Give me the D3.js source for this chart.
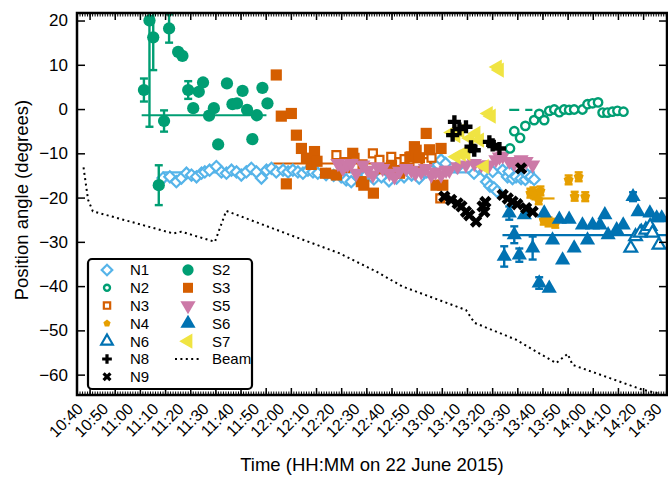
<!DOCTYPE html>
<html>
<head>
<meta charset="utf-8">
<script src="https://cdn.jsdelivr.net/npm/d3@7"></script>
<style>
body{margin:0;background:#fff}
svg text{font-family:"Liberation Sans",Arial,Helvetica,sans-serif;fill:#000}
</style>
</head>
<body>
<svg id="chart" width="668" height="477"></svg>
<script>
// times are minutes after 10:00 on 22 June 2015, values are position angles (deg)
// [minutes, angle] or [minutes, angle, error]
var n1 = [[69.2,-15.6],[71.9,-15.3],[74.5,-16.4],[76.5,-15.6],[78.5,-14.5],[80.5,-14.9],[82.5,-15.3],[84.5,-14.5],
  [85.8,-14.2],[87.7,-13.8],[90.4,-13.0],[92.4,-14.2],[94.4,-14.5],[96.4,-13.8],[98.4,-14.2],[100.3,-14.9],
  [102.3,-14.2],[104.3,-13.4],[106.3,-14.2],[108.3,-15.6],[110.3,-13.8],[112.3,-13.4],[114.2,-14.2],[116.9,-13.8],
  [118.9,-14.2],[120.8,-13.8],[122.8,-14.2],[124.8,-14.5],[126.8,-13.8],[128.8,-14.2],[130.7,-14.5],[134,-14.8],
  [137,-15.0],[140,-15.3],[142,-16.0],[144,-16.4],[147,-15.5],[150,-14.9],[153,-15.8],[156,-15.3],[159,-16.2],
  [162,-15.6],[165,-15.3],[168,-14.9],[171,-15.6],[174,-14.2],[176,-14.0],[178.5,-12.6],[179.7,-11.5],[181.5,-12.3],
  [186,-13.2],[192.8,-14.5],[194.8,-13.4],[196.9,-14.1],[197.8,-16.4],[199.1,-17.4],[200.2,-14.1],[200.7,-17.8],
  [202,-18.6],[204.2,-13.8],[206.1,-15.3],[206.7,-14.1],[208.1,-15.7],[209.5,-15.3],[211.5,-15.7],[213.2,-15.9],
  [214.1,-14.9],[215.4,-15.3],[216.7,-15.9]];
var n2 = [[207.1,-8.9],[208.8,-5.0],[211.1,-6.5],[213.2,-3.8],[216.7,-2.5],[218.7,-1.1],[220.7,-2.5],[222.7,-0.4],
  [224.7,-0.1],[226.7,-0.7],[228.6,-0.1],[230.6,-0.2],[232.6,-0.1],[235.9,-0.1],[237.9,1.1],[239.9,1.3],[242.1,1.5],
  [243.9,-0.8],[245.8,-0.8],[247.8,-0.6],[249.8,-0.4],[252.2,-0.6]];
var n3 = [[138.1,-10.4],[141.4,-12.0],[145.3,-11.0],[148.5,-12.5],[152.6,-10.0],[155.2,-11.5],[159.9,-10.8],
  [163.2,-12.0],[165.2,-11.3],[167.1,-10.8],[170.3,-12.2],[173.8,-12.0],[175.9,-11.0],[179.4,-20.2]];
var n4 = [[215.2,-19.0,1],[216.4,-18.7,1],[217.2,-19.4,1],[218.5,-20.5,1],[219.2,-18.5,1],[220.5,-25.1,1],
  [222.4,-25.5,1],[225.1,-25.8,1],[230.4,-16.0,1],[232.8,-19.7,1],[234.4,-15.3,1],[237.0,-19.8,1]];
var n6 = [[255.1,-31.4],[257.0,-28.8],[258.8,-28.0],[261.1,-27.3],[262.8,-26.5],[263.7,-28.0],[266.3,-30.7]];
var n8 = [[184.3,-5.9],[185.0,-2.9],[187.0,-4.5],[189.6,-4.0],[191.6,-8.5],[192.9,-9.3],[198.9,-7.4],[200.2,-8.1],[202.9,-8.9]];
var n9 = [[181.0,-19.8],[183.7,-20.5],[186.3,-21.3],[187.8,-22.0],[189.6,-23.2],[190.9,-24.0],[193.6,-25.4],
  [196.2,-22.0],[196.9,-23.2],[197.3,-21.0],[204.2,-19.4],[206.2,-20.2],[208.1,-20.9],[210.0,-21.5],[211.5,-13.4],
  [213.5,-22.4],[216.1,-23.2]];
var s2 = [[61.6,4.3,2.6],[63.8,20.0,24],[65.3,16.2,7.4],[67.5,-17.2,4.5],[69.6,-2.7,2.4],[71.6,18.2,3.2],
  [75.2,12.9],[76.9,12.0],[79.2,4.3,2.0],[81.2,0.2],[83.4,3.9],[85.1,6.0],[87.5,-1.5],[89.4,0.2],[91.1,-8.0],
  [94.6,5.8],[96.8,1.1],[98.6,1.3],[100.8,4.1],[102.6,-0.2],[104.7,-6.8],[106.5,-1.4],[108.7,4.8],[110.7,1.3]];
var s3 = [[114.2,7.7],[116.2,-1.6],[118.2,-16.9],[120.2,-1.0],[122.2,-5.9],[124.2,-8.9],[126.2,-11.1],[128.1,-12.5],
  [129.4,-9.6],[130.4,-11.8],[133.8,-14.5],[138.1,-14.9],[141.3,-13.2],[144.6,-10.0],[148.0,-16.4],[149.0,-17.2],
  [152.8,-19.0],[156,-13.5],[160,-12.8],[163.2,-14.5],[167.8,-10.8],[169.1,-8.5],[169.8,-9.3],[171.1,-11.0],
  [173.8,-5.5],[175.1,-9.2],[177.7,-17.2],[179.7,-8.9],[180.4,-17.2]];
var s5 = [[138.7,-12.3],[140.7,-13.4],[142.5,-12.6],[144.0,-12.3],[146.0,-14.5],[148.6,-12.6],[150.6,-13.8],
  [152.6,-14.9],[154.4,-13.0],[156.5,-13.4],[159.2,-14.5],[161.2,-15.3],[163.2,-14.0],[165.8,-13.4],[167.9,-13.8],
  [169.5,-14.5],[171.8,-14.2],[173.5,-13.4],[175.8,-14.9],[177.5,-14.2],[179.7,-14.9],[181.7,-13.8],[183.0,-13.8],
  [186.3,-13.0],[189.6,-12.6],[192.9,-12.3],[195.7,-12.6],[198.9,-12.6],[201.5,-11.4],[202.9,-10.8],[204.2,-10.6],
  [206.8,-11.8],[208.8,-12.3],[211.5,-11.4],[213.5,-11.8],[216.1,-12.6]];
var s6 = [[204.8,-33.3,2.3],[206.8,-23.5,1.5],[208.8,-28.4,1.9],[210.8,-33.0,1.5],[212.8,-23.9],[216.1,-31.4,2.6],
  [218.7,-39.3,1.3],[220.7,-23.5],[222.7,-40.5],[224.0,-29.6],[226.7,-24.9],[228.0,-34.1],[230.6,-24.9],[232.6,-31.4],
  [235.9,-26.2],[237.9,-29.6],[239.9,-26.2],[242.9,-26.2],[244.8,-23.9],[246.1,-28.4],[249.5,-27.3],[252.1,-26.2],
  [256.0,-19.8,1],[258.0,-23.2],[259.3,-27.6],[262.7,-23.5],[265.4,-24.6],[267.4,-24.6]];
var s7 = [[202.1,9.5],[202.9,8.8],[198.5,-1.0],[199.7,-1.6],[184.0,-5.3],[185.6,-6.0],[187.2,-5.0],[191.2,-6.6],
  [193.6,-5.5],[195.0,-7.0],[185.7,-10.8],[187.8,-10.2],[189.6,-10.0],[196.9,-13.0]];
var beam = [[37.6,-13.2],[39.4,-20.5],[41.3,-23.1],[73.2,-28.1],[76.5,-27.7],[89.8,-30.0],[94.3,-23.0],
  [119.5,-28.4],[139.4,-32.6],[153.9,-36.7],[164.4,-40.1],[189.6,-45.4],[193.0,-48.3],[209.5,-52.1],
  [225.4,-57.4],[230.0,-55.3],[232.0,-57.8],[259.7,-63.4],[265.7,-64.2]];
// mean lines: [start minute, end minute, angle]
var meanS2 = [60.7,110.3,-1.4];
var meanN1 = [69,217,-14.3];
var meanN3 = [113,179,-12.3];
var meanN2 = [206.8,216,-0.2];
var meanS6 = [204.1,270,-28.5];
var meanN4 = [215,224.8,-20.2];

var xTickLabels = ["10:40","10:50","11:00","11:10","11:20","11:30","11:40","11:50","12:00","12:10","12:20","12:30",
  "12:40","12:50","13:00","13:10","13:20","13:30","13:40","13:50","14:00","14:10","14:20","14:30"];
var yTickValues = [20,10,0,-10,-20,-30,-40,-50,-60];

var svg = d3.select("#chart");
var base = new Date(2015,5,22,10,0,0);
function tm(m){ return new Date(base.getTime()+m*60000); }
var parseHM = d3.timeParse("%H:%M");
function labelDate(s){ var d = parseHM(s); return new Date(2015,5,22,d.getHours(),d.getMinutes()); }

var L = 77, R = 667, T = 13, B = 395;
var x = d3.scaleTime().domain([tm(35), tm(269.5)]).range([L, R]);
var y = d3.scaleLinear().domain([-64.6, 21.7]).range([B, T]);

var C = {sky:"#56B4E9", green:"#009E73", verm:"#D55E00", orange:"#E69F00", blue:"#0072B2", pink:"#CC79A7", yellow:"#F0E442", black:"#000"};

var symbolPentagon = {draw:function(ctx,size){
  var r = Math.sqrt(size/2.378);
  for(var i=0;i<5;i++){
    var a = -Math.PI/2 + i*2*Math.PI/5;
    if(i) ctx.lineTo(r*Math.cos(a), r*Math.sin(a)); else ctx.moveTo(r*Math.cos(a), r*Math.sin(a));
  }
  ctx.closePath();
}};

var series = [
  {name:"N1", data:n1, type:d3.symbolSquare, size:62, rot:45, fill:"#fff", stroke:C.sky, sw:2.2},
  {name:"N3", data:n3, type:d3.symbolSquare, size:64, rot:0, fill:"#fff", stroke:C.verm, sw:2.2},
  {name:"S3", data:s3, type:d3.symbolSquare, size:125, rot:0, fill:C.verm, stroke:"none", sw:0},
  {name:"S5", data:s5, type:d3.symbolTriangle, size:100, rot:180, fill:C.pink, stroke:"none", sw:0},
  {name:"N2", data:n2, type:d3.symbolCircle, size:55, rot:0, fill:"#fff", stroke:C.green, sw:2.4},
  {name:"N4", data:n4, type:symbolPentagon, size:65, rot:0, fill:C.orange, stroke:"none", sw:0},
  {name:"S6", data:s6, type:d3.symbolTriangle, size:100, rot:0, fill:C.blue, stroke:"none", sw:0},
  {name:"N6", data:n6, type:d3.symbolTriangle, size:70, rot:0, fill:"#fff", stroke:C.blue, sw:2.2},
  {name:"S7", data:s7, type:d3.symbolTriangle, size:100, rot:-90, fill:C.yellow, stroke:"none", sw:0},
  {name:"N8", data:n8, type:d3.symbolCross, size:95, rot:0, fill:C.black, stroke:"none", sw:0},
  {name:"N9", data:n9, type:d3.symbolCross, size:95, rot:45, fill:C.black, stroke:"none", sw:0},
  {name:"S2", data:s2, type:d3.symbolCircle, size:118, rot:0, fill:C.green, stroke:"none", sw:0}
];
var byName = {};
series.forEach(function(s){ byName[s.name] = s; });

svg.append("defs").append("clipPath").attr("id","plotclip")
  .append("rect").attr("x",L).attr("y",T).attr("width",R-L).attr("height",B-T);

var plot = svg.append("g").attr("clip-path","url(#plotclip)");

// beam
var line = d3.line().x(function(d){ return x(tm(d[0])); }).y(function(d){ return y(d[1]); });
plot.append("path").datum(beam).attr("d",line)
  .attr("fill","none").attr("stroke","#000").attr("stroke-width",2).attr("stroke-dasharray","2,3.4");

// mean lines
function meanLine(m, color, dash){
  plot.append("line")
    .attr("x1",x(tm(m[0]))).attr("x2",x(tm(m[1])))
    .attr("y1",y(m[2])).attr("y2",y(m[2]))
    .attr("stroke",color).attr("stroke-width",2.2)
    .attr("stroke-dasharray",dash || null);
}
meanLine(meanN1, C.sky);
meanLine(meanS2, C.green);
meanLine(meanN3, C.verm);
meanLine(meanN2, C.green, "10,6");
meanLine(meanS6, C.blue);
meanLine(meanN4, C.orange);

series.forEach(function(s){
  var g = plot.append("g");
  var col = s.fill === "#fff" ? s.stroke : s.fill;
  var eb = s.data.filter(function(d){ return d[2]; });
  var e = g.selectAll("g.err").data(eb).enter().append("g").attr("class","err")
    .attr("stroke",col).attr("stroke-width",2.4);
  e.append("line")
    .attr("x1",function(d){ return x(tm(d[0])); }).attr("x2",function(d){ return x(tm(d[0])); })
    .attr("y1",function(d){ return y(d[1]-d[2]); }).attr("y2",function(d){ return y(d[1]+d[2]); });
  [-1,1].forEach(function(k){
    e.append("line")
      .attr("x1",function(d){ return x(tm(d[0]))-4; }).attr("x2",function(d){ return x(tm(d[0]))+4; })
      .attr("y1",function(d){ return y(d[1]+k*d[2]); }).attr("y2",function(d){ return y(d[1]+k*d[2]); });
  });
  g.selectAll("path.pt").data(s.data).enter().append("path").attr("class","pt")
    .attr("d", d3.symbol().type(s.type).size(s.size))
    .attr("transform",function(d){ return "translate(" + x(tm(d[0])) + "," + y(d[1]) + ") rotate(" + s.rot + ")"; })
    .attr("fill",s.fill).attr("stroke",s.stroke).attr("stroke-width",s.sw);
});

// axes
var majors = xTickLabels.map(labelDate);
var minors = d3.timeMinute.every(1).range(tm(35), tm(270));
var fmt = d3.timeFormat("%H:%M");

function styleAxis(g){
  g.select(".domain").remove();
  g.selectAll(".tick line").attr("stroke","#000").attr("stroke-width",1.5);
}
svg.append("g").attr("transform","translate(0,"+B+")")
  .call(d3.axisBottom(x).tickValues(minors).tickSize(-3.5).tickFormat(""))
  .call(styleAxis).selectAll(".tick line").attr("stroke-width",1);
svg.append("g").attr("transform","translate(0,"+T+")")
  .call(d3.axisTop(x).tickValues(minors).tickSize(-3.5).tickFormat(""))
  .call(styleAxis).selectAll(".tick line").attr("stroke-width",1);
var xb = svg.append("g").attr("transform","translate(0,"+B+")")
  .call(d3.axisBottom(x).tickValues(majors).tickSize(-7).tickFormat(fmt))
  .call(styleAxis);
xb.selectAll("text").attr("x",0).attr("y",0).attr("dy",0)
  .attr("text-anchor","end").attr("font-size",16)
  .attr("transform","translate(-6,15) rotate(-45)");
svg.append("g").attr("transform","translate(0,"+T+")")
  .call(d3.axisTop(x).tickValues(majors).tickSize(-7).tickFormat(""))
  .call(styleAxis);
var yl = svg.append("g").attr("transform","translate("+L+",0)")
  .call(d3.axisLeft(y).tickValues(yTickValues).tickSize(-8).tickPadding(9)
    .tickFormat(function(d){ return d < 0 ? "\u2212" + Math.abs(d) : d; }))
  .call(styleAxis);
yl.selectAll("text").attr("font-size",17);
svg.append("g").attr("transform","translate("+R+",0)")
  .call(d3.axisRight(y).tickValues(yTickValues).tickSize(-8).tickFormat(""))
  .call(styleAxis);

svg.append("rect").attr("x",L).attr("y",T).attr("width",R-L).attr("height",B-T)
  .attr("fill","none").attr("stroke","#000").attr("stroke-width",2.5);

// titles
svg.append("text").attr("x",372).attr("y",471).attr("text-anchor","middle")
  .attr("font-size",18.5).text("Time (HH:MM on 22 June 2015)");
svg.append("text").attr("transform","translate(28,"+((T+B)/2-4)+") rotate(-90)")
  .attr("text-anchor","middle").attr("font-size",18.5).text("Position angle (degrees)");

// legend
var lg = svg.append("g");
lg.append("rect").attr("x",88).attr("y",259).attr("width",164).attr("height",130).attr("rx",4)
  .attr("fill","#fff").attr("stroke","#000").attr("stroke-width",2.2);
var leftCol = ["N1","N2","N3","N4","N6","N8","N9"];
var rightCol = ["S2","S3","S5","S6","S7","Beam"];
var legendSize = {N1:56,N2:28,N3:40,N4:34,N6:58,N8:52,N9:52,S2:100,S3:100,S5:100,S6:100,S7:100};
function legendItem(name, i, sx, tx){
  var cy = 270 + i*17.8;
  if(name === "Beam"){
    lg.append("line").attr("x1",sx-13).attr("x2",sx+13).attr("y1",cy).attr("y2",cy)
      .attr("stroke","#000").attr("stroke-width",2).attr("stroke-dasharray","2,3.4");
  } else {
    var s = byName[name];
    lg.append("path").attr("d", d3.symbol().type(s.type).size(legendSize[name]))
      .attr("transform","translate("+sx+","+cy+") rotate("+s.rot+")")
      .attr("fill",s.fill).attr("stroke",s.stroke).attr("stroke-width",s.sw);
  }
  lg.append("text").attr("x",tx).attr("y",cy).attr("dy","0.36em").attr("font-size",15).text(name);
}
leftCol.forEach(function(n,i){ legendItem(n,i,107,130); });
rightCol.forEach(function(n,i){ legendItem(n,i,188,212); });
</script>
</body>
</html>
